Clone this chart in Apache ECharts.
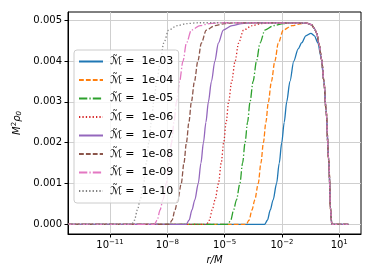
<!DOCTYPE html>
<html><head><meta charset="utf-8">
<script src="https://cdn.jsdelivr.net/npm/echarts@6/dist/echarts.min.js"></script>
<style>html,body{margin:0;padding:0;background:#fff}#c{width:374px;height:280px}</style>
</head><body><div id="c"></div>
<script>
// x values are log10(r/M)
var names = ['1e-03','1e-04','1e-05','1e-06','1e-07','1e-08','1e-09','1e-10'];
var colors = ['#1f77b4','#ff7f0e','#2ca02c','#d62728','#9467bd','#8c564b','#e377c2','#7f7f7f'];
var xTicks = [-11,-8,-5,-2,1];
var yTicks = [0,0.001,0.002,0.003,0.004,0.005];

var tail = [[-0.7,0.00493],[-0.45,0.00489],[-0.3,0.0048],[-0.18,0.00468],[-0.05,0.0044],[0.08,0.00403],[0.2,0.0035],[0.31,0.0028],[0.45,0.00158],[0.55,0.00035],[0.61,0],[1.48,0]];

var s1e03 = [[-13.2,0],[-2.9,0],[-2.76,0.0001],[-2.61,0.00035],[-2.46,0.0006],[-2.28,0.001],[-2.14,0.0015],[-2.01,0.002],[-1.88,0.0025],[-1.75,0.003],[-1.58,0.0035],[-1.38,0.004],[-1.15,0.0043],[-0.96,0.00445],[-0.75,0.00462],[-0.48,0.00468],[-0.3,0.00462],[-0.12,0.00445],[0.05,0.0041],[0.2,0.0035],[0.31,0.0028],[0.45,0.00158],[0.55,0.00035],[0.61,0],[1.48,0]];
var s1e04 = [[-13.2,0],[-3.87,0],[-3.72,0.0001],[-3.57,0.00035],[-3.42,0.0006],[-3.24,0.001],[-3.10,0.0015],[-2.97,0.002],[-2.84,0.0025],[-2.71,0.003],[-2.55,0.0035],[-2.37,0.004],[-2.19,0.00444],[-1.93,0.00476],[-1.47,0.00487],[-0.97,0.00492]];
var s1e05 = [[-13.2,0],[-4.83,0],[-4.68,0.0001],[-4.53,0.00035],[-4.38,0.0006],[-4.20,0.001],[-4.06,0.0015],[-3.93,0.002],[-3.80,0.0025],[-3.67,0.003],[-3.51,0.0035],[-3.33,0.004],[-3.15,0.00444],[-2.89,0.00476],[-2.43,0.00487],[-1.93,0.00492],[-1.33,0.00494]];
var s1e06 = [[-13.2,0],[-5.95,0],[-5.80,0.0001],[-5.65,0.00035],[-5.50,0.0006],[-5.32,0.001],[-5.18,0.0015],[-5.05,0.002],[-4.92,0.0025],[-4.79,0.003],[-4.63,0.0035],[-4.45,0.004],[-4.27,0.00444],[-4.01,0.00476],[-3.55,0.00487],[-3.05,0.00492],[-2.45,0.00494]];
var s1e07 = [[-13.2,0],[-7.01,0],[-6.86,0.0001],[-6.71,0.00035],[-6.56,0.0006],[-6.38,0.001],[-6.24,0.0015],[-6.11,0.002],[-5.98,0.0025],[-5.85,0.003],[-5.69,0.0035],[-5.51,0.004],[-5.33,0.00444],[-5.07,0.00476],[-4.61,0.00487],[-4.11,0.00492],[-3.51,0.00494]];
var s1e08 = [[-13.2,0],[-7.90,0],[-7.75,0.0001],[-7.60,0.00035],[-7.45,0.0006],[-7.27,0.001],[-7.13,0.0015],[-7.00,0.002],[-6.87,0.0025],[-6.74,0.003],[-6.58,0.0035],[-6.40,0.004],[-6.22,0.00444],[-5.96,0.00476],[-5.50,0.00487],[-5.00,0.00492],[-4.40,0.00494]];
var s1e09 = [[-13.2,0],[-8.68,0],[-8.53,0.0001],[-8.38,0.00035],[-8.23,0.0006],[-8.05,0.001],[-7.91,0.0015],[-7.78,0.002],[-7.65,0.0025],[-7.52,0.003],[-7.36,0.0035],[-7.18,0.004],[-7.00,0.00444],[-6.74,0.00476],[-6.28,0.00487],[-5.78,0.00492],[-5.18,0.00494]];
var s1e10 = [[-13.2,0],[-9.87,0],[-9.72,0.0001],[-9.57,0.00035],[-9.42,0.0006],[-9.24,0.001],[-9.10,0.0015],[-8.97,0.002],[-8.84,0.0025],[-8.71,0.003],[-8.55,0.0035],[-8.37,0.004],[-8.19,0.00444],[-7.93,0.00476],[-7.47,0.00487],[-6.97,0.00492],[-6.37,0.00494]];

var seriesData = [s1e03, s1e04.concat(tail), s1e05.concat(tail), s1e06.concat(tail), s1e07.concat(tail), s1e08.concat(tail), s1e09.concat(tail), s1e10.concat(tail)];
var lw = 1.3;
var dashes = ['solid',[4.8,2.1],[8.3,2.1,1.3,2.1],[1.3,2.1],'solid',[4.8,2.1],[8.3,2.1,1.3,2.1],[1.3,2.1]];

var chart = echarts.init(document.getElementById('c'), null, {renderer:'canvas'});
var FONT = 'DejaVu Sans';
chart.setOption({
  animation:false,
  textStyle:{fontFamily:FONT},
  grid:{left:68,right:13,top:12,bottom:46,show:true,borderColor:'#000',borderWidth:1,backgroundColor:'transparent'},
  legend:{
    orient:'vertical',left:74,top:50,
    data:names,
    itemWidth:24,itemHeight:12,itemGap:5.5,
    padding:[4.5,5.5,6,4],
    backgroundColor:'rgba(255,255,255,0.8)',borderColor:'#cccccc',borderWidth:1,borderRadius:3,
    itemStyle:{opacity:0},
    formatter:function(n){return '{t|\u2009\u02dc}{m|\u2133} =  '+n;},
    textStyle:{fontFamily:FONT,fontSize:11,color:'#000',lineHeight:12,padding:[0,0,0,2],
      rich:{m:{fontFamily:FONT,fontStyle:'italic',fontSize:11,color:'#000'},
            t:{fontFamily:FONT,fontSize:11,color:'#000',width:0,align:'left',padding:[0,0,3,0]}}}
  },
  xAxis:{
    type:'value',min:-13.2,max:2.14,
    name:'r/M',nameLocation:'middle',nameGap:20,
    nameTextStyle:{fontFamily:FONT,fontSize:10,fontStyle:'italic',color:'#000'},
    axisLine:{show:true,onZero:false,lineStyle:{color:'#000',width:1}},
    axisTick:{show:true,length:3.5,lineStyle:{color:'#000'},customValues:xTicks},
    axisLabel:{customValues:xTicks,margin:5,color:'#000',fontSize:10,
      formatter:function(v){return '{b|10}{s|'+(v<0?'\u2212':'')+Math.abs(v)+'}';},
      rich:{b:{fontFamily:FONT,fontSize:10,color:'#000'},s:{fontFamily:FONT,fontSize:7,color:'#000',padding:[0,0,6,0]}}},
    splitLine:{show:true,lineStyle:{color:'#cfcfcf',width:1}}
  },
  yAxis:{
    type:'value',min:-0.000238,max:0.005203,
    name:'{i|M}{s|2}{i|\u03c1}{u|0}',nameLocation:'middle',nameGap:40,nameRotate:90,
    nameTextStyle:{color:'#000',rich:{i:{fontFamily:FONT,fontSize:10,fontStyle:'italic',color:'#000'},s:{fontFamily:FONT,fontSize:7,color:'#000',padding:[0,0,6,0]},u:{fontFamily:FONT,fontSize:7,fontStyle:'italic',color:'#000',padding:[4,0,0,0]}}},
    axisLine:{show:true,onZero:false,lineStyle:{color:'#000',width:1}},
    axisTick:{show:true,length:3.5,lineStyle:{color:'#000'},customValues:yTicks},
    axisLabel:{customValues:yTicks,margin:6,color:'#000',fontSize:10,fontFamily:FONT,
      formatter:function(v){return v.toFixed(3);}},
    splitLine:{show:true,lineStyle:{color:'#cfcfcf',width:1}}
  },
  series:names.map(function(n,i){
    return {name:n,type:'line',data:seriesData[i],showSymbol:false,symbol:'none',
      smooth:0.3,smoothMonotone:'x',
      lineStyle:{color:colors[i],width:lw,type:dashes[i]},itemStyle:{color:colors[i]}};
  })
});
</script></body></html>
